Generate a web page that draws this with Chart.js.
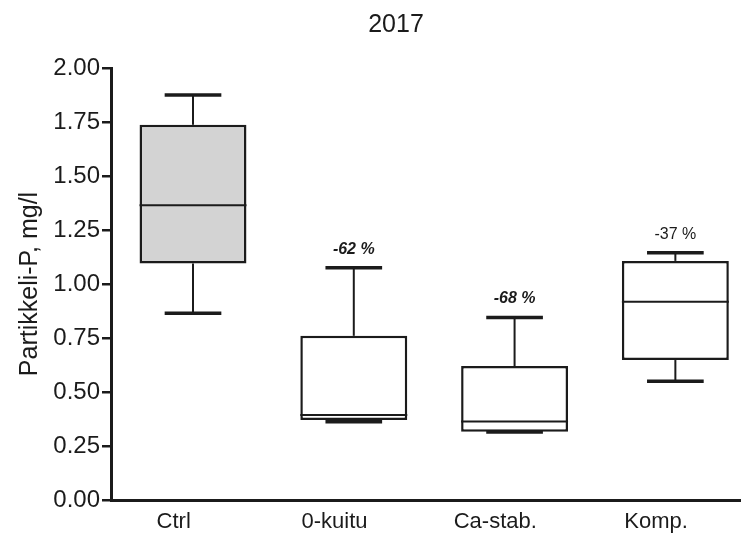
<!DOCTYPE html>
<html>
<head>
<meta charset="utf-8">
<title>Partikkeli-P 2017</title>
<script src="https://cdn.jsdelivr.net/npm/chart.js@4/dist/chart.umd.min.js"></script>
<style>
  html, body { margin: 0; padding: 0; background: #ffffff; }
  #wrap { width: 748px; height: 548px; position: relative; }
</style>
</head>
<body>
<div id="wrap"><canvas id="chart"></canvas></div>
<script>
// Box-plot summary per treatment (mg/l)
const categories   = ['Ctrl', '0-kuitu', 'Ca-stab.', 'Komp.'];
const whiskerLow   = [0.865, 0.362, 0.315, 0.550];
const quartile1    = [1.095, 0.370, 0.316, 0.648];
const medians      = [1.365, 0.394, 0.363, 0.918];
const quartile3    = [1.737, 0.760, 0.620, 1.107];
const whiskerHigh  = [1.875, 1.075, 0.845, 1.145];
// Change relative to the control
const changeLabels = ['', '-62 %', '-68 %', '-37 %'];
const yTickValues  = [0, 0.25, 0.5, 0.75, 1, 1.25, 1.5, 1.75, 2];

const INK = '#1b1b1b';
const FAMILY = '"Liberation Sans", Arial, Helvetica, sans-serif';
const boxFills = ['#d3d3d3', '#ffffff', '#ffffff', '#ffffff'];
const changeFonts = ['', 'italic bold 16px ' + FAMILY, 'italic bold 16px ' + FAMILY, '16px ' + FAMILY];

// Medians, whiskers, caps and the change labels, drawn over the boxes
const boxWhiskers = {
  id: 'boxWhiskers',
  afterDatasetsDraw(chart, args, opts) {
    const { ctx, scales: { x, y } } = chart;
    const boxes = chart.getDatasetMeta(0).data;
    const seg = (x1, y1, x2, y2, w) => {
      ctx.lineWidth = w;
      ctx.beginPath();
      ctx.moveTo(x1, y1);
      ctx.lineTo(x2, y2);
      ctx.stroke();
    };
    ctx.save();
    ctx.strokeStyle = INK;
    ctx.lineCap = 'butt';
    categories.forEach((name, i) => {
      const cx = x.getPixelForValue(i);
      const half = boxes[i].width / 2;
      const capHalf = half * opts.capRatio;
      const yMed = y.getPixelForValue(medians[i]);
      const yQ1 = y.getPixelForValue(quartile1[i]);
      const yQ3 = y.getPixelForValue(quartile3[i]);
      const yLo = y.getPixelForValue(whiskerLow[i]);
      const yHi = y.getPixelForValue(whiskerHigh[i]);
      seg(cx - half, yMed, cx + half, yMed, 2);
      seg(cx, yQ3, cx, yHi, 2);
      seg(cx, yQ1, cx, yLo, 2);
      seg(cx - capHalf, yHi, cx + capHalf, yHi, 3.5);
      seg(cx - capHalf, yLo, cx + capHalf, yLo, 3.5);
      if (changeLabels[i]) {
        ctx.font = changeFonts[i];
        ctx.fillStyle = INK;
        ctx.textAlign = 'center';
        ctx.textBaseline = 'alphabetic';
        ctx.fillText(changeLabels[i], cx, yHi - opts.labelGap);
      }
    });
    ctx.restore();
  }
};

const labelShift = -0.12;

new Chart(document.getElementById('chart'), {
  type: 'bar',
  data: {
    datasets: [{
      data: categories.map((c, i) => ({ x: i, y: [quartile1[i], quartile3[i]] })),
      backgroundColor: boxFills,
      borderColor: INK,
      borderWidth: 2.5,
      borderSkipped: false,
      barPercentage: 0.665,
      categoryPercentage: 1
    }]
  },
  options: {
    responsive: true,
    maintainAspectRatio: false,
    animation: false,
    layout: { padding: { left: 52, right: 8, top: 8, bottom: 8 } },
    plugins: {
      legend: { display: false },
      tooltip: { enabled: false },
      title: {
        display: true,
        text: '2017',
        color: INK,
        font: { family: FAMILY, size: 25, weight: 'normal' },
        padding: { top: 2, bottom: 28 }
      },
      boxWhiskers: { capRatio: 0.53, labelGap: 14 }
    },
    scales: {
      x: {
        type: 'linear',
        offset: false,
        min: -0.51,
        max: 3.402,
        afterBuildTicks: (s) => { s.ticks = categories.map((c, i) => ({ value: i + labelShift })); },
        afterFit: (s) => { s.height = 40; },
        ticks: {
          autoSkip: false,
          maxRotation: 0,
          padding: 9,
          color: INK,
          font: { family: FAMILY, size: 22 },
          callback: (v, idx) => categories[idx]
        },
        grid: { display: false, drawTicks: false, offset: false },
        border: { display: true, width: 3, color: INK }
      },
      y: {
        type: 'linear',
        min: 0,
        max: 2,
        afterBuildTicks: (s) => { s.ticks = yTickValues.map(v => ({ value: v })); },
        afterFit: (s) => { s.width = 59; },
        ticks: {
          padding: 2,
          color: INK,
          font: { family: FAMILY, size: 24 },
          callback: (v) => Number(v).toFixed(2)
        },
        grid: { drawOnChartArea: false, drawTicks: true, tickLength: 9, lineWidth: 2.5, color: INK },
        border: { display: true, width: 3, color: INK },
        title: {
          display: true,
          text: 'Partikkeli-P, mg/l',
          color: INK,
          font: { family: FAMILY, size: 25 },
          padding: { top: -37, bottom: 0 }
        }
      }
    }
  },
  plugins: [boxWhiskers]
});
</script>
</body>
</html>
